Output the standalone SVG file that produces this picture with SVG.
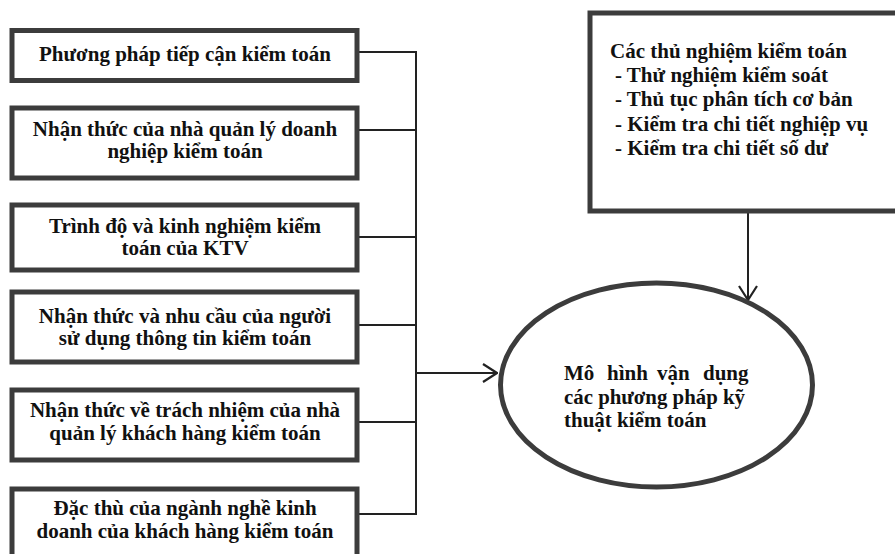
<svg xmlns="http://www.w3.org/2000/svg" width="895" height="554" viewBox="0 0 895 554">
<style>
.box{fill:#fff;stroke:#3c3c3c;stroke-width:5}
.t{font-family:"Liberation Serif","Times New Roman",serif;font-weight:bold;font-size:21px;fill:#111}
.c{text-anchor:middle}
.ln{fill:none;stroke:#222;stroke-width:2}
</style>
<defs>
<marker id="ah" viewBox="0 0 16 20" refX="15" refY="10" markerWidth="16" markerHeight="20" markerUnits="userSpaceOnUse" orient="auto">
<path d="M1,1 L15,10 L1,19" fill="none" stroke="#222" stroke-width="2.2"/>
</marker>
</defs>
<rect width="895" height="554" fill="#fff"/>
<g id="connectors">
<path class="ln" d="M359,52 H416 V514 H359"/>
<path class="ln" d="M359,130 H416"/>
<path class="ln" d="M359,237 H416"/>
<path class="ln" d="M359,325 H416"/>
<path class="ln" d="M359,422 H416"/>
<path class="ln" d="M416,373 H497" marker-end="url(#ah)"/>
<path class="ln" d="M748,213 V300" marker-end="url(#ah)"/>
</g>
<g id="n1"><rect class="box" x="12" y="30.5" width="345" height="50"/>
<text class="t c" x="185" y="61">Phương pháp tiếp cận kiểm toán</text></g>
<g id="n2"><rect class="box" x="12" y="108" width="345" height="70"/>
<text class="t c" x="185" y="136">Nhận thức của nhà quản lý doanh</text>
<text class="t c" x="185" y="158">nghiệp kiểm toán</text></g>
<g id="n3"><rect class="box" x="12" y="205" width="345" height="65"/>
<text class="t c" x="185" y="233">Trình độ và kinh nghiệm kiểm</text>
<text class="t c" x="185" y="255">toán của KTV</text></g>
<g id="n4"><rect class="box" x="12" y="292" width="345" height="70"/>
<text class="t c" x="185" y="323">Nhận thức và nhu cầu của người</text>
<text class="t c" x="185" y="345">sử dụng thông tin kiểm toán</text></g>
<g id="n5"><rect class="box" x="12" y="390" width="345" height="70"/>
<text class="t c" x="185" y="417">Nhận thức về trách nhiệm của nhà</text>
<text class="t c" x="185" y="440">quản lý khách hàng kiểm toán</text></g>
<g id="n6"><rect class="box" x="12" y="489" width="345" height="70"/>
<text class="t c" x="185" y="515">Đặc thù của ngành nghề kinh</text>
<text class="t c" x="185" y="538">doanh của khách hàng kiểm toán</text></g>
<g id="n7"><rect class="box" x="590" y="13" width="320" height="198"/>
<text class="t" x="610" y="58">Các thủ nghiệm kiểm toán</text>
<text class="t" x="615" y="82">- Thử nghiệm kiểm soát</text>
<text class="t" x="615" y="106">- Thủ tục phân tích cơ bản</text>
<text class="t" x="615" y="131">- Kiểm tra chi tiết nghiệp vụ</text>
<text class="t" x="615" y="155">- Kiểm tra chi tiết số dư</text></g>
<g id="n8"><ellipse class="box" cx="656.5" cy="385" rx="156" ry="102" stroke-width="4"/>
<text class="t" y="380"><tspan x="564">Mô</tspan><tspan x="607">hình</tspan><tspan x="657">vận</tspan><tspan x="703">dụng</tspan></text>
<text class="t" x="564" y="404" textLength="181" lengthAdjust="spacingAndGlyphs">các phương pháp kỹ</text>
<text class="t" x="564" y="427">thuật kiểm toán</text></g>
</svg>
